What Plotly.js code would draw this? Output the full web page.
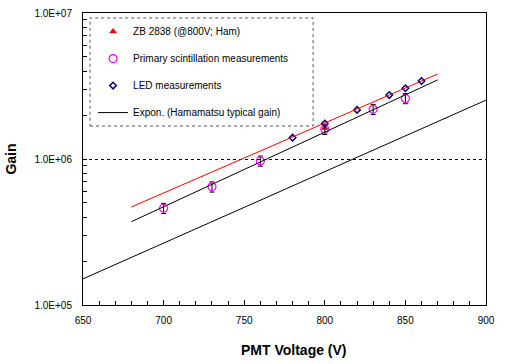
<!DOCTYPE html>
<html>
<head>
<meta charset="utf-8">
<script src="https://cdn.plot.ly/plotly-3.0.1.min.js"></script>
<style>
  html, body { margin: 0; padding: 0; background: #fff; }
  #gain-graph { width: 507px; height: 364px; }
</style>
</head>
<body>
<div id="gain-graph"></div>
<script>
'use strict';

// ZB 2838 reference point (Hamamatsu, @800V)
const zbVoltage = [800];
const zbGain = [1.63e6];

// primary scintillation measurements (+- 8 %)
const scintVoltage = [700, 730, 760, 800, 830, 850];
const scintGain = [4.6e5, 6.45e5, 9.7e5, 1.6e6, 2.19e6, 2.6e6];
const scintErrPct = 8;

// LED measurements
const ledVoltage = [780, 800, 820, 840, 850, 860];
const ledGain = [1.40e6, 1.75e6, 2.17e6, 2.74e6, 3.05e6, 3.42e6];

// exponential trend lines (end points)
const ledFitVoltage = [680, 870];
const ledFitGain = [4.69e5, 3.82e6];
const scintFitVoltage = [680, 870];
const scintFitGain = [3.72e5, 3.48e6];
const hamaVoltage = [650, 900];
const hamaGain = [1.51e5, 2.53e6];

// axis ticks
const xMajor = [650, 700, 750, 800, 850, 900];
const xMinor = [660, 670, 680, 690, 710, 720, 730, 740, 760, 770, 780, 790,
                810, 820, 830, 840, 860, 870, 880, 890];
const yMajor = [1e5, 1e6, 1e7];
const yMajorText = ['1.0E+05', '1.0E+06', '1.0E+07'];
const yMinor = [2e5, 3e5, 4e5, 5e5, 6e5, 7e5, 8e5, 9e5,
                2e6, 3e6, 4e6, 5e6, 6e6, 7e6, 8e6, 9e6];

const FONT = 'Liberation Sans, Arial, sans-serif';

const zbTrace = {
    x: zbVoltage,
    y: zbGain,
    type: 'scatter',
    mode: 'markers',
    name: 'ZB 2838 (@800V; Ham)',
    legendgroup: 'a',
    marker: { symbol: 'triangle-up', size: 7, color: '#ff0000' }
};

const scintTrace = {
    x: scintVoltage,
    y: scintGain,
    type: 'scatter',
    mode: 'markers',
    name: 'Primary scintillation measurements',
    legendgroup: 'b',
    marker: { symbol: 'circle-open', size: 8, color: '#ff00ff', line: { width: 1.2 } },
    error_y: { type: 'percent', value: scintErrPct, color: '#000', thickness: 1, width: 2.5 }
};

const ledTrace = {
    x: ledVoltage,
    y: ledGain,
    type: 'scatter',
    mode: 'markers',
    name: 'LED measurements',
    legendgroup: 'c',
    marker: { symbol: 'diamond-open', size: 5, color: '#000080', line: { width: 1.5 } }
};

const hamaTrace = {
    x: hamaVoltage,
    y: hamaGain,
    type: 'scatter',
    mode: 'lines',
    name: 'Expon. (Hamamatsu typical gain)',
    legendgroup: 'd',
    line: { color: '#000', width: 1 }
};

const ledFitTrace = {
    x: ledFitVoltage,
    y: ledFitGain,
    type: 'scatter',
    mode: 'lines',
    showlegend: false,
    line: { color: '#ff0000', width: 1 }
};

const scintFitTrace = {
    x: scintFitVoltage,
    y: scintFitGain,
    type: 'scatter',
    mode: 'lines',
    showlegend: false,
    line: { color: '#000', width: 1 }
};

const layout = {
    width: 507,
    height: 364,
    margin: { l: 83, r: 21, t: 13, b: 59 },
    paper_bgcolor: '#fff',
    plot_bgcolor: '#fff',
    font: { family: FONT, size: 10, color: '#000' },
    showlegend: true,
    legend: {
        x: 0.025, xanchor: 'left',
        y: 0.986, yanchor: 'top',
        bgcolor: 'rgba(0,0,0,0)',
        borderwidth: 0,
        tracegroupgap: 8,
        font: { family: FONT, size: 10, color: '#000' }
    },
    xaxis: {
        range: [650, 900],
        tickmode: 'array',
        tickvals: xMajor,
        ticks: 'inside',
        ticklen: 5,
        tickcolor: '#000',
        ticklabelstandoff: 6,
        showgrid: false,
        zeroline: false,
        showline: true,
        linecolor: '#000',
        linewidth: 1,
        mirror: true,
        minor: { tickmode: 'array', tickvals: xMinor, ticks: 'inside', ticklen: 4, tickcolor: '#000', showgrid: false },
        title: { text: '' }
    },
    yaxis: {
        type: 'log',
        range: [5, 7],
        tickmode: 'array',
        tickvals: yMajor,
        ticktext: yMajorText,
        ticks: 'inside',
        ticklen: 4,
        tickcolor: '#000',
        ticklabelstandoff: 8,
        showgrid: true,
        gridcolor: '#000',
        griddash: 'dot',
        gridwidth: 1,
        zeroline: false,
        showline: true,
        linecolor: '#000',
        linewidth: 1,
        mirror: true,
        minor: { tickmode: 'array', tickvals: yMinor, ticks: 'inside', ticklen: 4, tickcolor: '#000', showgrid: false },
        automargin: false,
        title: { text: 'Gain', standoff: 14, font: { family: FONT, size: 14, color: '#000', weight: 'bold' } }
    },
    annotations: [{
        text: '<b>PMT Voltage (V)</b>',
        xref: 'paper', yref: 'paper',
        x: 0.524, y: -0.155,
        xanchor: 'center', yanchor: 'middle',
        showarrow: false,
        font: { family: FONT, size: 14, color: '#000' }
    }],
    shapes: [{
        // dotted legend frame
        type: 'rect',
        xref: 'paper', yref: 'paper',
        x0: 0.0174, x1: 0.571, y0: 0.613, y1: 0.983,
        line: { color: '#555', width: 1, dash: 'dot' }
    }]
};

const data = [zbTrace, scintTrace, ledTrace, hamaTrace, ledFitTrace, scintFitTrace];

Plotly.newPlot('gain-graph', data, layout, { displayModeBar: false, staticPlot: true });
</script>
</body>
</html>
